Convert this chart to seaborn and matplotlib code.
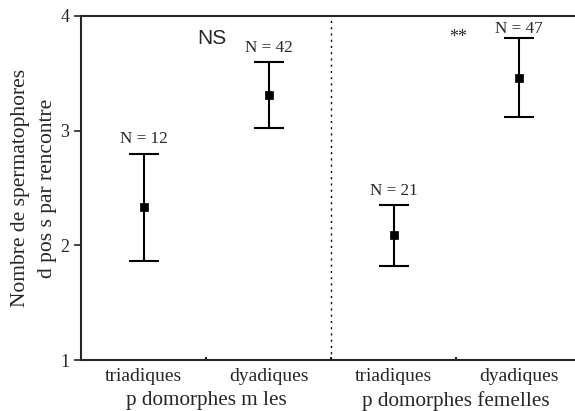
import matplotlib
matplotlib.use("Agg")
import matplotlib.pyplot as plt
import seaborn as sns
import pandas as pd

# valeurs
categories = ["triadiques", "dyadiques", "triadiques", "dyadiques"]
groupes = ["p domorphes m les", "p domorphes femelles"]
moyennes = [2.33, 3.31, 2.09, 3.46]
bas = [1.86, 3.02, 1.82, 3.12]
haut = [2.80, 3.60, 2.35, 3.81]
effectifs = [12, 42, 21, 47]
signif = ["NS", "**"]

sns.set_style("ticks")
plt.rcParams['font.family'] = ['Liberation Serif', 'DejaVu Serif']

df = pd.DataFrame({"pos": range(len(categories)), "moy": moyennes,
                   "bas": bas, "haut": haut, "n": effectifs})

fig = plt.figure(figsize=(5.75, 4.11), dpi=100)
ax = fig.add_axes([81 / 575, 1 - 360 / 411, 1 - 81 / 575, 344 / 411])

# barres d'erreur
ax.errorbar(df["pos"], df["moy"],
            yerr=[df["moy"] - df["bas"], df["haut"] - df["moy"]],
            fmt="none", ecolor="black", elinewidth=1.5, capsize=11, capthick=1.5)
# moyennes
sns.scatterplot(data=df, x="pos", y="moy", marker="s", color="black", s=40,
                edgecolor="black", ax=ax, zorder=3, legend=False)

for _, r in df.iterrows():
    ax.text(r["pos"], min(r["haut"] + 0.09, 3.85), f"N = {int(r['n'])}",
            ha="center", va="baseline", fontsize=12.3)

ax.text(0.55, 3.72, signif[0], family=["Liberation Sans", "DejaVu Sans"],
        fontsize=15, ha="center", va="bottom")
ax.text(2.52, 3.74, signif[1], fontsize=13, ha="center", va="bottom")

ax.axvline(1.5, color="black", linestyle=(0, (1.5, 3)), linewidth=1)

ax.set_xlim(-0.5, 3.452)
ax.set_ylim(1, 4)
ax.set_yticks([1, 2, 3, 4])
ax.set_xticks(range(len(categories)))
ax.set_xticklabels(categories, fontsize=14)
ax.set_xticks([0.5, 1.5, 2.5], minor=True)
ax.tick_params(axis="x", which="major", length=0, pad=6)
ax.tick_params(axis="x", which="minor", length=2, direction="in", width=1.5)
ax.tick_params(axis="y", labelsize=13, length=5, width=1.2)
ax.set_xlabel("")
ax.set_ylabel("Nombre de spermatophores\nd pos s par rencontre", fontsize=15.5,
              labelpad=2, linespacing=1.6)

for i, g in enumerate(groupes):
    ax.text(0.5 + 2 * i, -0.118, g, transform=ax.get_xaxis_transform(),
            ha="center", va="center", fontsize=15.2)

for s in ["left", "bottom", "top"]:
    ax.spines[s].set_linewidth(1.5)
ax.spines["right"].set_visible(False)

fig.savefig("out.png", dpi=100)
